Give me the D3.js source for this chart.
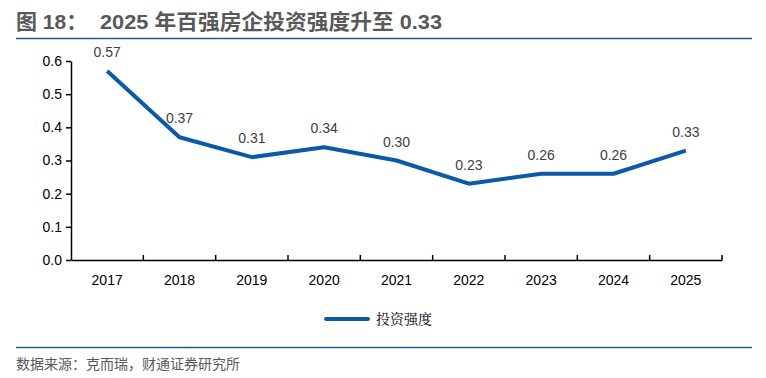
<!DOCTYPE html>
<html><head><meta charset="utf-8">
<script src="https://cdn.jsdelivr.net/npm/d3@7"></script>
<style>body{margin:0;background:#fff}svg{display:block}</style>
</head><body>
<svg id="c" width="766" height="378"></svg>
<script>
const years = ["2017","2018","2019","2020","2021","2022","2023","2024","2025"];
const intensity = [0.57,0.37,0.31,0.34,0.30,0.23,0.26,0.26,0.33];
const yTicks = [0,0.1,0.2,0.3,0.4,0.5,0.6];
const titleLabel = "图 18：";
const titleText = "2025 年百强房企投资强度升至 0.33";
const legendText = "投资强度";
const sourceText = "数据来源：克而瑞，财通证券研究所";

const svg = d3.select("#c");
const font = "Arial, 'Liberation Sans', 'Noto Sans CJK SC', sans-serif";
const blue = "#0b5aa6";

svg.append("text").attr("x",16).attr("y",29).attr("font-family",font)
  .attr("font-size",21).attr("font-weight","bold").attr("fill","#595959").text(titleLabel);
svg.append("text").attr("x",100).attr("y",29).attr("font-family",font)
  .attr("font-size",21).attr("font-weight","bold").attr("fill","#595959")
  .attr("textLength",342).attr("lengthAdjust","spacingAndGlyphs").text(titleText);
svg.append("line").attr("x1",16).attr("x2",752).attr("y1",38.5).attr("y2",38.5)
  .attr("stroke","#1f5c8a").attr("stroke-width",1.5);

const x = d3.scaleBand().domain(years).range([71,722]);
const y = d3.scaleLinear().domain([0,0.6]).range([260,61]);

const ya = svg.append("g").attr("transform","translate(71,0)")
  .call(d3.axisLeft(y).tickValues(yTicks).tickFormat(d3.format(".1f")).tickSize(5).tickSizeOuter(0));
ya.select(".domain").attr("stroke","#000").attr("stroke-width",1.5);
ya.selectAll(".tick line").attr("stroke","#000").attr("stroke-width",1.5);
ya.selectAll(".tick text").attr("font-family",font).attr("font-size",14).attr("fill","#000").attr("x",-9);

const xa = svg.append("g").attr("transform","translate(0,260)")
  .call(d3.axisBottom(x).tickSize(0).tickSizeOuter(0));
xa.select(".domain").attr("stroke","#000").attr("stroke-width",1.5);
xa.selectAll(".tick text").attr("font-family",font).attr("font-size",14).attr("fill","#000").attr("dy","1.55em");
svg.append("g").selectAll("line").data(years.slice(1).concat(["end"])).join("line")
  .attr("x1",(d,i)=> i<years.length-1 ? x(d) : x.range()[1]).attr("x2",(d,i)=> i<years.length-1 ? x(d) : x.range()[1])
  .attr("y1",260).attr("y2",255).attr("stroke","#000").attr("stroke-width",1.5);

const line = d3.line().x((d,i)=>x(years[i])+x.bandwidth()/2).y(d=>y(d));
svg.append("path").datum(intensity).attr("d",line).attr("fill","none")
  .attr("stroke",blue).attr("stroke-width",4).attr("stroke-linejoin","round");

svg.append("g").selectAll("text").data(intensity).join("text")
  .attr("x",(d,i)=>x(years[i])+x.bandwidth()/2).attr("y",d=>y(d)-14)
  .attr("text-anchor","middle").attr("font-family",font).attr("font-size",14).attr("fill","#404040")
  .text(d=>d.toFixed(2));

svg.append("line").attr("x1",326).attr("x2",368).attr("y1",319).attr("y2",319)
  .attr("stroke",blue).attr("stroke-width",4).attr("stroke-linecap","round");
svg.append("text").attr("x",376).attr("y",324).attr("font-family","'Noto Serif CJK SC','Noto Sans CJK SC',serif")
  .attr("font-size",14).attr("fill","#000").text(legendText);

svg.append("line").attr("x1",16).attr("x2",752).attr("y1",347.5).attr("y2",347.5)
  .attr("stroke","#1f5c8a").attr("stroke-width",1.5);
svg.append("text").attr("x",16).attr("y",369).attr("font-family","'Noto Sans CJK SC', sans-serif")
  .attr("font-size",14).attr("fill","#595959").text(sourceText);
</script>
</body></html>
